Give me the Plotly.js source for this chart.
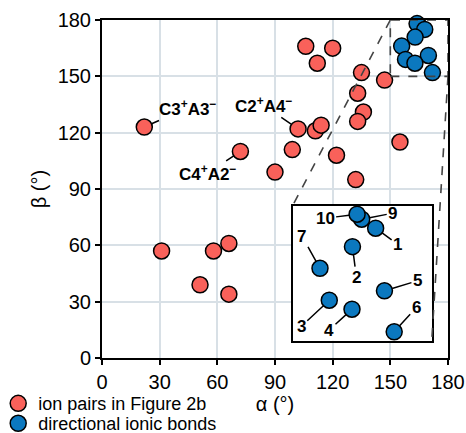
<!DOCTYPE html>
<html>
<head>
<meta charset="utf-8">
<script src="https://cdn.plot.ly/plotly-3.0.1.min.js"></script>
<style>html,body{margin:0;padding:0;background:#fff;}#chart{width:466px;height:433px;}</style>
</head>
<body>
<div id="chart"></div>
<script>
// ---- data ----
const ionAlpha = [22, 72, 90, 106, 120, 112, 135, 147, 133, 136, 133, 102, 111, 114, 99, 122, 155, 132, 31, 58, 66, 51, 66];
const ionBeta  = [123, 110, 99, 166, 165, 157, 152, 148, 141, 131, 126, 122, 121, 124, 111, 108, 115, 95, 57, 57, 61, 39, 34];
const ionLabelText = ['C3<sup>+</sup>A3<sup>−</sup>', 'C2<sup>+</sup>A4<sup>−</sup>', 'C4<sup>+</sup>A2<sup>−</sup>'];
const ionLabelIndex = [0, 11, 1];

const bondLabels = ['9', '10', '1', '2', '7', '5', '3', '4', '6'];
const bondAlpha  = [164.9, 163.9, 167.9, 162.9, 155.9, 169.8, 157.9, 162.8, 171.9];
const bondBeta   = [177.0, 178.1, 175.0, 170.9, 166.1, 161.1, 159.0, 157.0, 152.0];

const seriesNames = ['ion pairs in Figure 2b', 'directional ionic bonds'];
const tickVals = [0, 30, 60, 90, 120, 150, 180];

// ---- styles / layout positions ----
const RED = '#f9615a', BLUE = '#0b78bf';
const FONT = 'Liberation Sans, Arial, sans-serif';
const ionLabelOffsets = [[43, -19], [-35, -24], [-33, 22]];
const bondLabelOffsets = {'9': [31, -6], '10': [-32, 4], '1': [22, 16], '2': [4, 31], '7': [-18, -32],
  '5': [33, -10], '3': [-28, 26], '4': [-23, 21], '6': [22, -24]};
const insetX = [0.551, 0.953], insetY = [0.051, 0.4506];
const zoomBox = [150, 180];

const mk = (c) => ({size: 16, color: c, line: {color: '#000', width: 1.5}});

const traces = [
  {x: ionAlpha, y: ionBeta, type: 'scatter', mode: 'markers', name: seriesNames[0],
   marker: mk(RED), cliponaxis: false, legend: 'legend', hoverinfo: 'none'},
  {x: bondAlpha, y: bondBeta, type: 'scatter', mode: 'markers', name: seriesNames[1],
   marker: mk(BLUE), cliponaxis: false, legend: 'legend2', hoverinfo: 'none'},
  {x: bondAlpha, y: bondBeta, type: 'scatter', mode: 'markers', showlegend: false,
   marker: mk(BLUE), cliponaxis: false, xaxis: 'x2', yaxis: 'y2', hoverinfo: 'none'}
];

const annotations = [];
ionLabelIndex.forEach((idx, i) => {
  annotations.push({x: ionAlpha[idx], y: ionBeta[idx], xref: 'x', yref: 'y',
    text: '<b>' + ionLabelText[i] + '</b>', showarrow: true, arrowhead: 0, arrowwidth: 1.5,
    arrowcolor: '#000', standoff: 8, ax: ionLabelOffsets[i][0], ay: ionLabelOffsets[i][1],
    font: {size: 17, color: '#000', family: FONT}});
});
bondLabels.forEach((lab, i) => {
  const o = bondLabelOffsets[lab];
  annotations.push({x: bondAlpha[i], y: bondBeta[i], xref: 'x2', yref: 'y2',
    text: '<b>' + lab + '</b>', showarrow: true, arrowhead: 0, arrowwidth: 1.5,
    arrowcolor: '#000', standoff: 8, ax: o[0], ay: o[1],
    font: {size: 17, color: '#000', family: FONT}});
});

const dashLine = {color: '#444', width: 1.6, dash: 'dash'};
const shapes = [
  {type: 'rect', xref: 'x2 domain', yref: 'y2 domain', x0: 0, x1: 1, y0: 0, y1: 1,
   fillcolor: '#fff', line: {width: 0}, layer: 'below'},
  {type: 'rect', xref: 'x', yref: 'y', x0: zoomBox[0], x1: zoomBox[1], y0: zoomBox[0], y1: zoomBox[1],
   line: dashLine, layer: 'above'},
  {type: 'line', xref: 'x', yref: 'y', x0: zoomBox[0], y0: zoomBox[1],
   x1: insetX[0] * 180, y1: insetY[1] * 180, line: dashLine, layer: 'above'},
  {type: 'line', xref: 'x', yref: 'y', x0: zoomBox[1], y0: zoomBox[0],
   x1: insetX[1] * 180, y1: insetY[0] * 180, line: dashLine, layer: 'above'}
];

const axisCommon = {
  range: [0, 180], tickvals: tickVals, ticktext: tickVals.map(String),
  ticks: 'outside', ticklen: 5, tickwidth: 2, tickcolor: '#000',
  showline: true, linewidth: 2, linecolor: '#000', mirror: true,
  showgrid: true, gridcolor: '#d8e0e6', gridwidth: 2, zeroline: false,
  tickfont: {size: 20, color: '#000', family: FONT}
};

const layout = {
  width: 466, height: 433,
  margin: {l: 102, r: 18, t: 20, b: 75, autoexpand: false},
  paper_bgcolor: '#fff', plot_bgcolor: '#fff',
  font: {family: FONT, color: '#000'},
  xaxis: Object.assign({}, axisCommon, {domain: [0, 1],
    title: {text: 'α (°)', font: {size: 20, color: '#000', family: FONT}, standoff: 3}}),
  yaxis: Object.assign({}, axisCommon, {domain: [0, 1],
    title: {text: 'β (°)', font: {size: 20, color: '#000', family: FONT}, standoff: 6}}),
  xaxis2: {domain: insetX, range: zoomBox, anchor: 'y2', showgrid: false, zeroline: false,
    showticklabels: false, ticks: '', showline: true, mirror: true, linewidth: 2, linecolor: '#000'},
  yaxis2: {domain: insetY, range: zoomBox, anchor: 'x2', showgrid: false, zeroline: false,
    showticklabels: false, ticks: '', showline: true, mirror: true, linewidth: 2, linecolor: '#000'},
  legend: {x: -0.3, y: -0.135, xanchor: 'left', yanchor: 'middle', bgcolor: 'rgba(0,0,0,0)',
    font: {size: 18, color: '#000', family: FONT}},
  legend2: {x: -0.3, y: -0.194, xanchor: 'left', yanchor: 'middle', bgcolor: 'rgba(0,0,0,0)',
    font: {size: 18, color: '#000', family: FONT}},
  annotations: annotations,
  shapes: shapes,
  showlegend: true
};

Plotly.newPlot('chart', traces, layout, {staticPlot: true, displayModeBar: false});
</script>
</body>
</html>
